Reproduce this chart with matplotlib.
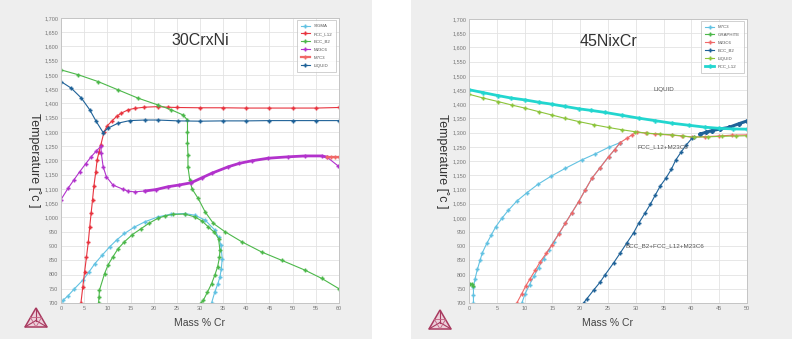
import matplotlib.pyplot as plt
from matplotlib.patches import Rectangle, Polygon
from matplotlib.lines import Line2D

plt.rcParams['font.family'] = ['Liberation Sans', 'DejaVu Sans']

# ---------------- 30CrxNi section (Mass % Cr vs temperature) ----------------
cr_sigma_x = [0, 0.4, 1.5, 2.9, 4.7, 6.0, 7.3, 8.9, 10.5, 12.0, 13.7, 15.8, 18.1, 20.9, 23.8,
              26.7, 28.9, 31.1, 33.2, 34.0, 34.5, 34.8, 34.6, 34.3, 33.8, 33.2, 32.5]
cr_sigma_t = [700, 709, 725, 750, 780, 808, 838, 868, 897, 921, 944, 966, 985, 1002, 1012,
              1014, 1008, 991, 956, 930, 903, 856, 820, 791, 765, 739, 700]

cr_fcc_x = [4.3, 4.7, 5.1, 5.5, 5.9, 6.2, 6.5, 6.8, 7.1, 7.5, 7.8, 8.2, 8.6, 9.3, 10.0, 10.9,
            12.0, 13.0, 14.5, 15.9, 18.0, 20.9, 23.0, 25.0, 30.0, 35.0, 40.0, 45.0, 50.0, 55.0, 60.0]
cr_fcc_t = [700, 756, 810, 862, 915, 967, 1015, 1061, 1110, 1160, 1202, 1230, 1255, 1301, 1322, 1337,
            1355, 1366, 1378, 1383, 1387, 1389, 1387, 1386, 1385, 1385, 1384, 1384, 1384, 1384, 1386]

cr_bcc_hi_x = [0, 3.7, 8.0, 12.3, 16.6, 20.9, 23.8, 26.3, 27.3, 27.3, 27.3, 27.4, 27.4, 27.8, 28.3,
               29.6, 31.1, 32.9, 35.4, 39.0, 43.3, 47.6, 52.7, 56.3, 60.0]
cr_bcc_hi_t = [1518, 1501, 1477, 1448, 1419, 1395, 1378, 1360, 1342, 1300, 1260, 1220, 1178, 1131, 1100,
               1067, 1020, 979, 950, 915, 879, 850, 815, 786, 750]

cr_bcc_lo_x = [8.1, 8.2, 8.3, 9.4, 10.2, 11.2, 12.3, 13.7, 15.4, 17.3, 19.0, 20.9, 22.5, 24.2, 26.7,
               28.9, 30.5, 31.8, 33.1, 34.0, 34.3, 34.2, 33.8, 33.2, 32.5, 31.6, 30.7, 30.2]
cr_bcc_lo_t = [700, 720, 745, 803, 835, 862, 890, 915, 940, 961, 980, 997, 1006, 1011, 1012,
               1002, 987, 967, 948, 926, 885, 860, 827, 798, 768, 738, 709, 700]

cr_m23_x = [0, 1.5, 2.7, 4.0, 5.3, 6.5, 7.6, 8.6, 8.7, 9.1, 9.8, 11.2, 13.4, 14.5, 16.0, 18.1, 20.5,
            23.1, 25.5, 28.1, 30.5, 32.5, 36.1, 38.5, 41.2, 44.7, 49.1, 52.7, 56.3, 57.4, 59.8]
cr_m23_t = [1063, 1102, 1130, 1160, 1188, 1213, 1233, 1250, 1225, 1178, 1143, 1114, 1099, 1092, 1090, 1093, 1098,
            1108, 1114, 1122, 1140, 1155, 1178, 1190, 1199, 1208, 1213, 1216, 1216, 1212, 1181]

cr_m7_x = [57.4, 58.2, 59.1, 60.0]
cr_m7_t = [1213, 1213, 1213, 1213]

cr_liq_x = [0, 2.2, 4.4, 6.2, 7.6, 9.1, 10.1, 12.3, 14.8, 18.1, 20.9, 25.3, 30.0, 35.0, 40.0,
            45.0, 50.0, 55.0, 60.0]
cr_liq_t = [1477, 1454, 1419, 1378, 1337, 1298, 1313, 1331, 1340, 1342, 1342, 1339, 1338, 1339, 1339,
            1340, 1340, 1340, 1340]

# ---------------- 45NixCr section ----------------
ni_m7_lo_x = [0.8, 0.8, 0.8, 1.1, 1.5, 2.0, 2.4, 3.2, 4.0, 4.8, 5.9, 7.1, 8.6, 10.4, 12.4, 14.8,
              17.3, 20.3, 22.7, 25.1, 27.2]
ni_m7_lo_t = [700, 727, 757, 786, 818, 851, 877, 910, 939, 968, 998, 1027, 1059, 1088, 1118, 1147,
              1174, 1204, 1225, 1248, 1265]
ni_m7_hi_x = [9.5, 10.1, 10.9, 11.7, 12.5, 13.4, 14.3, 15.2, 16.2, 17.3, 18.5, 19.7, 20.9, 22.1,
              23.6, 25.1, 26.2, 27.2]
ni_m7_hi_t = [700, 733, 765, 795, 825, 855, 885, 915, 945, 980, 1018, 1056, 1098, 1139,
              1177, 1215, 1240, 1265]

ni_graphite_x = [0.2, 0.5, 0.8]
ni_graphite_t = [768, 766, 760]

ni_m23_x = [8.6, 9.5, 10.2, 11.0, 11.9, 12.8, 13.9, 14.9, 16.1, 17.3, 18.5, 19.7, 20.9, 22.1, 23.6,
            25.1, 26.2, 27.2, 28.4, 29.3, 30.2, 31.8, 33.5, 36.5, 38.3, 40.1, 42.5, 45.0, 47.3, 50.0]
ni_m23_t = [700, 733, 760, 786, 815, 845, 875, 904, 942, 980, 1018, 1056, 1098, 1139, 1177,
            1215, 1240, 1265, 1280, 1292, 1302, 1298, 1295, 1291, 1288, 1284, 1286, 1288, 1291, 1292]

ni_bcc_x = [20.6, 21.2, 22.4, 23.6, 24.5, 26.0, 27.2, 28.4, 29.6, 30.5, 31.7, 32.6, 33.5, 34.4,
            35.4, 36.4, 37.2, 38.2, 39.1, 40.1, 40.4]
ni_bcc_t = [700, 715, 745, 774, 800, 841, 876, 912, 947, 980, 1018, 1047, 1080, 1112,
            1139, 1171, 1204, 1233, 1257, 1280, 1284]
ni_bcc_top_x = [41.6, 42.6, 43.7, 45.2, 46.7, 48.5, 50.0]
ni_bcc_top_t = [1295, 1301, 1307, 1313, 1318, 1331, 1341]

ni_liq_x = [0, 2.5, 5.3, 7.7, 10.1, 12.5, 14.9, 17.3, 19.7, 22.4, 25.1, 27.5, 29.9, 32.0, 34.3,
            36.5, 38.5, 40.4, 43.0, 45.5, 48.0, 50.0]
ni_liq_t = [1435, 1422, 1409, 1397, 1386, 1374, 1362, 1350, 1339, 1328, 1318, 1310, 1303, 1298, 1295,
            1292, 1288, 1284, 1285, 1287, 1288, 1289]

ni_fcc_x = [0, 2.5, 5.3, 7.5, 10.1, 12.5, 14.9, 17.3, 19.7, 22.0, 24.5, 27.5, 30.5, 33.5, 36.5,
            39.5, 42.5, 45.0, 47.5, 50.0]
ni_fcc_t = [1451, 1441, 1430, 1422, 1415, 1407, 1400, 1392, 1384, 1378, 1371, 1361, 1351, 1342, 1333,
            1326, 1319, 1315, 1313, 1312]

# region labels for the 45NixCr section
ni_regions = ['LIQUID', 'FCC_L12+M23C6', 'BCC_B2+FCC_L12+M23C6']
ni_region_x = [35.0, 34.8, 35.2]
ni_region_t = [1453, 1250, 900]

temp_ticks = list(range(700, 1701, 50))

# colours
LIGHTBLUE = '#62c2e2'
RED = '#e8343f'
GREEN = '#4cb84a'
PURPLE = '#b232cc'
SALMON = '#f06868'
DARKBLUE = '#1f6298'
YGREEN = '#8cc43a'
TURQ = '#22d6cf'

W, H = 792, 339
fig = plt.figure(figsize=(W / 100, H / 100), dpi=100)
fig.patch.set_facecolor('white')

# grey panels behind each chart
for x0, x1 in [(0, 372), (411, 792)]:
    fig.add_artist(Rectangle((x0 / W, 0), (x1 - x0) / W, 1, transform=fig.transFigure,
                             facecolor='#eeeeee', edgecolor='none', zorder=-10))


def draw_logo(cx, cy):
    # small Thermo-Calc style triangle in pixel coordinates
    top, bl, br = (cx, cy - 10), (cx - 11, cy + 9), (cx + 11, cy + 9)
    mid = (cx, cy + 2.5)
    f = lambda p: (p[0] / W, 1 - p[1] / H)
    fig.add_artist(Polygon([f(top), f(bl), f(br)], closed=True, transform=fig.transFigure,
                           facecolor='#ecd0da', edgecolor='#a8395f', lw=1.1))
    for p in (top, bl, br):
        q = [f(p), f(mid)]
        fig.add_artist(Line2D([q[0][0], q[1][0]], [q[0][1], q[1][1]], transform=fig.transFigure,
                              color='#a8395f', lw=0.8))
    m1 = ((top[0] + bl[0]) / 2, (top[1] + bl[1]) / 2)
    m2 = ((top[0] + br[0]) / 2, (top[1] + br[1]) / 2)
    m3 = ((bl[0] + br[0]) / 2, (bl[1] + br[1]) / 2)
    pts = [f(m1), f(m2), f(m3), f(m1)]
    fig.add_artist(Line2D([p[0] for p in pts], [p[1] for p in pts], transform=fig.transFigure,
                          color='#c26080', lw=0.6))


def style_axes(ax, xmax, title, title_x):
    ax.set_xlim(0, xmax)
    ax.set_ylim(700, 1700)
    ax.set_xticks(range(0, xmax + 1, 5))
    ax.set_yticks(temp_ticks)
    ax.set_yticklabels([f'{t:,}' for t in temp_ticks])
    ax.tick_params(length=0, labelsize=4, colors='#777777', pad=2)
    ax.grid(True, color='#e3e3e3', lw=0.6)
    ax.set_axisbelow(True)
    for s in ax.spines.values():
        s.set_color('#c4c4c4')
        s.set_linewidth(0.7)
    ax.set_xlabel('Mass % Cr', fontsize=7.5, color='#444444', labelpad=5)
    ax.set_ylabel('Temperature [˚c ]', fontsize=9, color='#333333', rotation=270,
                  va='center', ha='center')
    ax.yaxis.set_label_coords(-0.095, 0.5)
    ax.text(title_x, 1620, title, fontsize=11.5, color='#333333', ha='center', va='center')


def curve(ax, x, t, color, label=None, lw=0.8, ms=2.6):
    ax.plot(x, t, color=color, lw=lw, marker='P', ms=ms, mec=color, mew=0.2, label=label)


# ---------------- left chart ----------------
ax1 = fig.add_axes([61 / W, 1 - 303 / H, 278 / W, 285 / H])
curve(ax1, cr_sigma_x, cr_sigma_t, LIGHTBLUE, 'SIGMA')
curve(ax1, cr_fcc_x, cr_fcc_t, RED, 'FCC_L12')
curve(ax1, cr_bcc_hi_x, cr_bcc_hi_t, GREEN, 'BCC_B2')
curve(ax1, cr_bcc_lo_x, cr_bcc_lo_t, GREEN)
curve(ax1, cr_m23_x, cr_m23_t, PURPLE, 'M23C6')
ax1.plot(cr_m23_x[15:30], cr_m23_t[15:30], color=PURPLE, lw=2.0)
curve(ax1, cr_m7_x, cr_m7_t, SALMON, 'M7C3', lw=1.6)
curve(ax1, cr_liq_x, cr_liq_t, DARKBLUE, 'LIQUID')
style_axes(ax1, 60, '30CrxNi', 30)

# ---------------- right chart ----------------
ax2 = fig.add_axes([469 / W, 1 - 303 / H, 278 / W, 284 / H])
curve(ax2, ni_m7_lo_x, ni_m7_lo_t, LIGHTBLUE, 'M7C3')
curve(ax2, ni_m7_hi_x, ni_m7_hi_t, LIGHTBLUE)
curve(ax2, ni_graphite_x, ni_graphite_t, GREEN, 'GRAPHITE')
curve(ax2, ni_m23_x, ni_m23_t, SALMON, 'M23C6')
curve(ax2, ni_bcc_x, ni_bcc_t, DARKBLUE, 'BCC_B2')
ax2.plot(ni_bcc_top_x, ni_bcc_top_t, color=DARKBLUE, lw=2.2, marker='P', ms=2.6)
curve(ax2, ni_liq_x, ni_liq_t, YGREEN, 'LIQUID')
curve(ax2, ni_fcc_x, ni_fcc_t, TURQ, 'FCC_L12', lw=2.0, ms=3)
for name, x, t in zip(ni_regions, ni_region_x, ni_region_t):
    ax2.text(x, t, name, fontsize=4.5, color='#555555', ha='center', va='center')
style_axes(ax2, 50, '45NixCr', 25)

for ax in (ax1, ax2):
    leg = ax.legend(loc='upper right', bbox_to_anchor=(0.99, 0.993), borderaxespad=0,
                    fontsize=3.2, labelspacing=0.85, handlelength=2.0, handletextpad=0.9,
                    borderpad=0.9, fancybox=False, frameon=True)
    leg.get_frame().set_edgecolor('#bbbbbb')
    leg.get_frame().set_linewidth(0.6)
    for txt in leg.get_texts():
        txt.set_color('#555555')

draw_logo(36, 318)
draw_logo(440, 320)

fig.savefig('out.png', dpi=100)
